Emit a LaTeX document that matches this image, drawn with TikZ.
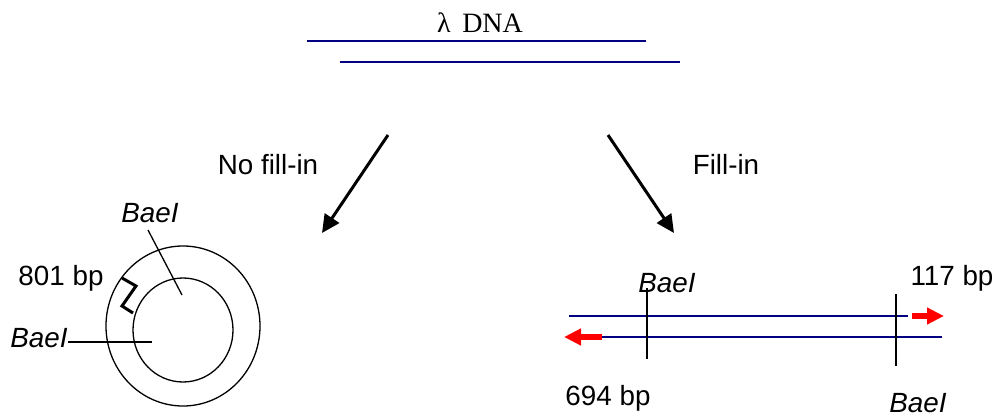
\documentclass[tikz,border=0pt]{standalone}
\usepackage{fontspec}
\setmainfont{Liberation Sans}
\newfontfamily\serifdna{Liberation Serif}
\usetikzlibrary{arrows.meta}
\definecolor{dnablue}{RGB}{0,0,128}
\begin{document}
\begin{tikzpicture}[x=0.5pt,y=-0.5pt,
  lbl/.style={font=\fontsize{13.9pt}{16pt}\selectfont, inner sep=0pt, anchor=base},
  enz/.style={font=\fontsize{13.9pt}{16pt}\selectfont\itshape, inner sep=0pt, anchor=base},
  strand/.style={draw=dnablue, line width=1pt},
  thin/.style={draw=black, line width=0.65pt},
  cutline/.style={draw=black, line width=0.9pt},
  bigarrow/.style={draw=black, line width=1.5pt, -{Triangle[length=9pt,width=8.5pt]}},
  redarrow/.style={draw=red, line width=3pt, -{Triangle[length=8.5pt,width=8pt]}},
  zig/.style={draw=black, line width=1.5pt}
]
\useasboundingbox (0,0) rectangle (1002,418);

% lambda DNA
\node[lbl, font=\fontsize{14pt}{16pt}\selectfont\serifdna] (title) at (480,32) {λ\, DNA};
\coordinate (t1a) at (307,41); \coordinate (t1b) at (646,41);
\coordinate (t2a) at (340,62); \coordinate (t2b) at (680,62);
\draw[strand] (t1a) -- (t1b);
\draw[strand] (t2a) -- (t2b);

% branch arrows
\coordinate (la) at (388,135); \coordinate (lb) at (322,233);
\coordinate (ra) at (608,135); \coordinate (rb) at (674,233);
\draw[bigarrow] (la) -- (lb);
\draw[bigarrow] (ra) -- (rb);
\node[lbl] (nofill) at (268,174) {No fill-in};
\node[lbl] (fill) at (726,174) {Fill-in};

% circular product
\coordinate (oc) at (183,326);
\coordinate (ic) at (183,330);
\draw[thin] (oc) ellipse [x radius=38.5pt, y radius=40pt];
\draw[thin] (ic) ellipse [x radius=25pt, y radius=26pt];
\node[enz] (bt) at (150,222) {BaeI};
\coordinate (btA) at (148,230); \coordinate (btB) at (182,295);
\draw[thin] (btA) -- (btB);
\node[enz, anchor=base east] (bl) at (68,347) {BaeI};
\coordinate (blB) at (152,342);
\draw[thin] (bl.base east) ++(0,-5) -- (blB);
\node[lbl] (bp801) at (61,285) {801 bp};
\coordinate (z1) at (122,278); \coordinate (z2) at (136,286);
\coordinate (z3) at (122,306); \coordinate (z4) at (133,313);
\draw[zig] (z1) -- (z2) -- (z3) -- (z4);

% linear product
\coordinate (s1a) at (569,316); \coordinate (s1b) at (908,316);
\coordinate (s2a) at (601,337); \coordinate (s2b) at (942,337);
\draw[strand] (s1a) -- (s1b);
\draw[strand] (s2a) -- (s2b);
\coordinate (ra1) at (912,316); \coordinate (ra2) at (944,316);
\draw[redarrow] (ra1) -- (ra2);
\coordinate (la1) at (602,337); \coordinate (la2) at (564,337);
\draw[redarrow] (la1) -- (la2);
\coordinate (v1a) at (647,288); \coordinate (v1b) at (647,359);
\coordinate (v2a) at (896,294); \coordinate (v2b) at (896,366);
\draw[cutline] (v1a) -- (v1b);
\draw[cutline] (v2a) -- (v2b);
\node[enz] (br1) at (667,292) {BaeI};
\node[lbl] (bp117) at (952,285) {117 bp};
\node[lbl] (bp694) at (608,405) {694 bp};
\node[enz] (br2) at (918,412) {BaeI};
\end{tikzpicture}
\end{document}
